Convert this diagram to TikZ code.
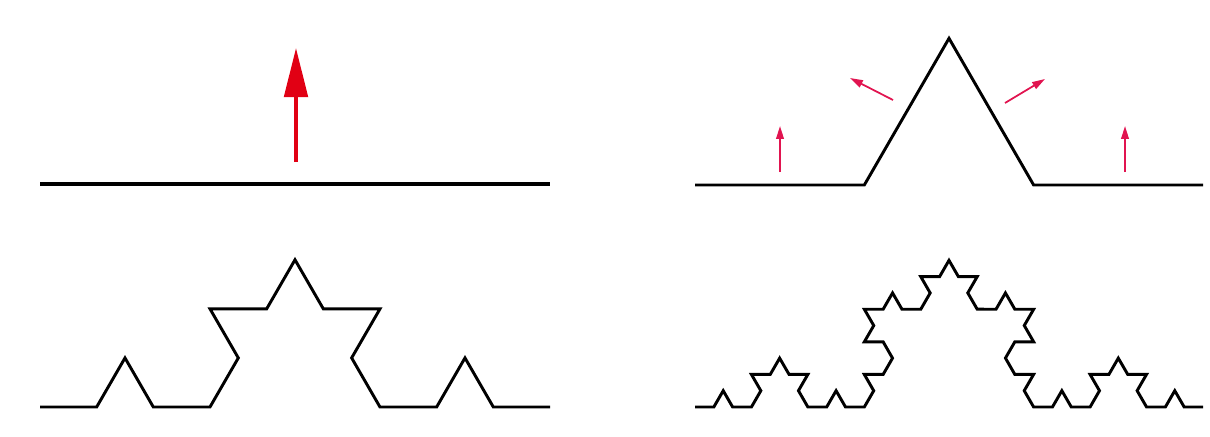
\documentclass[tikz,border=0pt]{standalone}
\usetikzlibrary{arrows.meta,decorations.fractals}
\tikzset{>=Latex,curve/.style={line width=2.5pt,black,line join=miter},
  bigpush/.style={line width=3.4pt,draw={rgb,255:red,225;green,0;blue,20},-{Triangle[length=42pt,width=20pt]}},
  push/.style={line width=1.5pt,draw={rgb,255:red,225;green,20;blue,80},-{Triangle[length=11pt,width=6.5pt]}},
  koch/.style={decoration=Koch snowflake}}

\begin{document}
\begin{tikzpicture}[x=0.03cm,y=-0.03cm]
\useasboundingbox (0,0) rectangle (1210,436);
% step 0
\draw[curve,line width=3pt] (40,184)--(550,184);
\coordinate (b0) at (296,162);\coordinate (b1) at (296,48);
\draw[bigpush] (b0)--(b1);
% step 1
\draw[curve,koch] decorate{(695,185)--(1203,185)};
\coordinate (p0) at (780,172);\coordinate (p1) at (780,126);
\coordinate (q0) at (893,100);\coordinate (q1) at (850,78);
\coordinate (r0) at (1005,103);\coordinate (r1) at (1045,79);
\coordinate (s0) at (1125,172);\coordinate (s1) at (1125,126);
\foreach \a/\b in {p0/p1,q0/q1,r0/r1,s0/s1}{\draw[push] (\a)--(\b);}
% step 2 and 3
\draw[curve,koch] decorate{decorate{(40,407)--(550,407)}};
\draw[curve,koch] decorate{decorate{decorate{(695,407)--(1203,407)}}};
\end{tikzpicture}
\end{document}
